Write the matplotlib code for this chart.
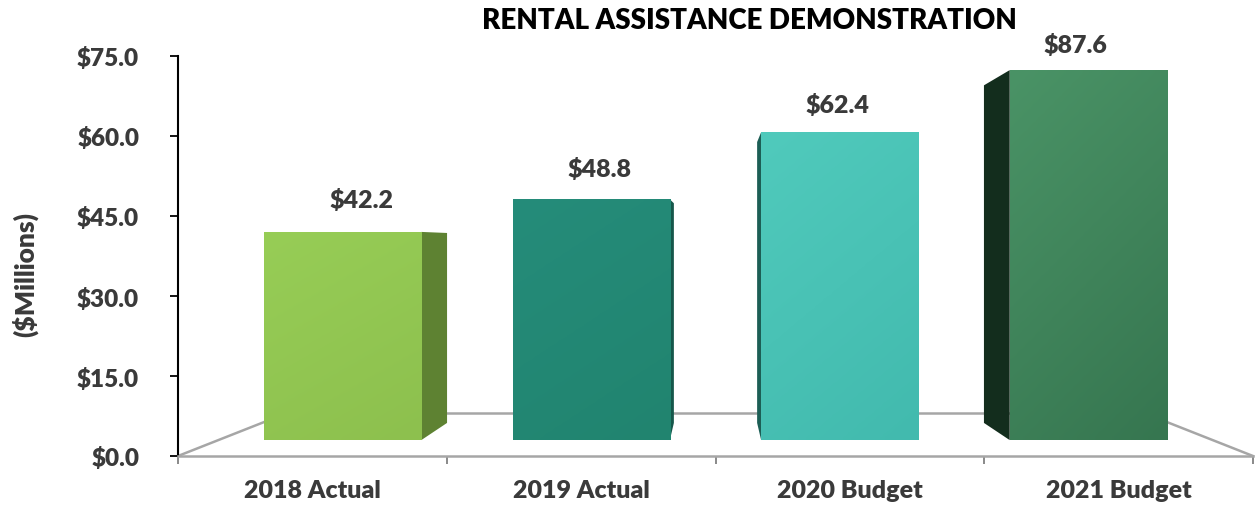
import numpy as np
import matplotlib
matplotlib.use("Agg")
import matplotlib.pyplot as plt
from matplotlib.transforms import Affine2D
from matplotlib.patches import Polygon
from matplotlib.colors import LinearSegmentedColormap

# ---- data ----
categories = ["2018 Actual", "2019 Actual", "2020 Budget", "2021 Budget"]
values = [42.2, 48.8, 62.4, 87.6]
value_labels = ["$42.2", "$48.8", "$62.4", "$87.6"]
ytick_values = [0, 15, 30, 45, 60, 75]
ytick_labels = ["$0.0", "$15.0", "$30.0", "$45.0", "$60.0", "$75.0"]
front_light = ["#97CD56", "#258C7A", "#50CABC", "#4A9366"]
front_dark = ["#8DC04E", "#21846F", "#42BAAE", "#367650"]
side_colors = ["#5E8232", "#16574B", "#1C5E55", "#132D1D"]

plt.rcParams['font.family'] = ['Lato', 'DejaVu Sans']
TXT = "#3A3A3A"
WT = "heavy"

fig = plt.figure(figsize=(12.56, 5.10), dpi=100)
ax = fig.add_axes([178/1256, 1-457/510, (1253-178)/1256, 400/510])
ax.set_xlim(-0.5, 3.5)
ax.set_ylim(0, 75)
ymax = 75

# perspective: shrink toward a vanishing point (data coords)
VPX, VPY = 1.5, (457-245)/(400/75)
def depth_tf(g):
    return Affine2D().scale(1-g).translate(g*VPX, g*VPY)

G_FRONT, G_BACK, G_FLOOR = 0.075, 0.156, 0.203
W = 0.633
x = np.arange(len(categories))

# floor
tf_floor = depth_tf(G_FLOOR)
fl = tf_floor.transform([[-0.5, 0], [3.5, 0]])
floor_kw = dict(color="#A6A6A6", lw=1.8, zorder=1, clip_on=False)
ax.plot([fl[0][0], fl[1][0]], [fl[0][1], fl[1][1]], **floor_kw)
ax.plot([-0.5, fl[0][0]], [0, fl[0][1]], **floor_kw)
ax.plot([3.5, fl[1][0]], [0, fl[1][1]], **floor_kw)

tf_front = depth_tf(G_FRONT)
tf_back = depth_tf(G_BACK)
heights = np.minimum(values, ymax)
bars = ax.bar(x, heights, width=W, color=front_light, zorder=3,
              transform=tf_front + ax.transData, linewidth=0)

for i, (b, h) in enumerate(zip(bars, heights)):
    l, r = x[i]-W/2, x[i]+W/2
    e = r if r < VPX else l
    fpts = tf_front.transform([[e, 0], [e, h]])
    bpts = tf_back.transform([[e, 0], [e, h]])
    poly = Polygon([fpts[0], bpts[0], bpts[1], fpts[1]], closed=True,
                   facecolor=side_colors[i], edgecolor="none", zorder=2)
    ax.add_patch(poly)
    # subtle gradient on front face (lighter top-left, darker bottom-right)
    cmap = LinearSegmentedColormap.from_list("g", [front_light[i], front_dark[i]])
    gy, gx = np.mgrid[0:1:64j, 0:1:64j]
    grad = gy*0.7 + gx*0.3
    im = ax.imshow(grad, cmap=cmap, vmin=0, vmax=1, extent=(l, r, 0, h),
                   origin="upper", aspect="auto", zorder=3.5,
                   transform=tf_front + ax.transData, interpolation="bilinear")
    im.set_clip_path(b)
    mid = depth_tf((G_FRONT+G_BACK)/2).transform([[x[i], h]])[0]
    ax.annotate(value_labels[i], xy=(mid[0], mid[1]), xytext=(3, 33),
                textcoords="offset pixels", ha="center", va="center",
                fontsize=18, fontweight=WT, color=TXT, annotation_clip=False)

ax.set_xlim(-0.5, 3.5)
ax.set_ylim(0, 75)

for s in ["top", "right"]:
    ax.spines[s].set_visible(False)
ax.spines["left"].set_color("#000000")
ax.spines["left"].set_linewidth(1.5)
ax.spines["bottom"].set_color("#A6A6A6")
ax.spines["bottom"].set_linewidth(1.8)
ax.set_yticks(ytick_values)
ax.set_yticklabels(ytick_labels, fontsize=17.5, fontweight=WT, color=TXT)
ax.tick_params(axis="y", length=6, width=1.3, color="#000000", pad=22)
ax.set_xticks(np.arange(-0.5, 3.6, 1.0))
ax.set_xticklabels([])
ax.tick_params(axis="x", length=6, width=1.3, color="#808080")
for i, c in enumerate(categories):
    ax.text(x[i], -4.4, c, ha="center", va="top", fontsize=18,
            fontweight=WT, color=TXT, transform=ax.transData)

fig.text(25/1256, 1-275/510, "($Millions)", rotation=90, ha="center",
         va="center", fontsize=19, fontweight=WT, color=TXT)
fig.text(749/1256, 1-21/510, "RENTAL ASSISTANCE DEMONSTRATION", ha="center",
         va="center", fontsize=20, fontweight=WT, color="#000000")

fig.savefig("out.png", dpi=100)
